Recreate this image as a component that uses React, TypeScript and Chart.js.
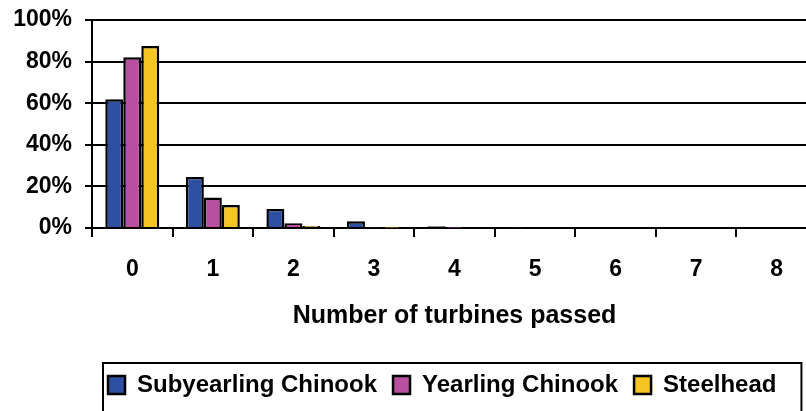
import React, { useEffect, useRef } from "react";
import { Chart, registerables } from "chart.js";

Chart.register(...registerables);

const categories = ["0", "1", "2", "3", "4", "5", "6", "7", "8"];
const subyearling = [61.9, 24.5, 9.1, 3.3, 0.8, 0.2, 0, 0, 0];
const yearling = [82.1, 14.7, 2.3, 0.3, 0.1, 0, 0, 0, 0];
const steelhead = [87.5, 11.0, 1.0, 0.1, 0, 0, 0, 0, 0];
const yTicks = [0, 20, 40, 60, 80, 100];

const FONT = "'Liberation Sans', Arial, sans-serif";

const legendFrame = {
  id: "legendFrame",
  afterDraw(chart: any) {
    const lg = chart.legend;
    if (!lg || !lg.legendHitBoxes || !lg.legendHitBoxes.length) return;
    const hb = lg.legendHitBoxes;
    const left = hb[0].left - 5;
    const last = hb[hb.length - 1];
    const right = last.left + last.width + 25;
    const top = lg.top + 6;
    const bottom = chart.height + 2;
    const ctx = chart.ctx;
    ctx.save();
    ctx.strokeStyle = "#000";
    ctx.lineWidth = 2;
    ctx.strokeRect(left, top, right - left, bottom - top);
    ctx.restore();
  },
};

export default function App() {
  const ref = useRef<HTMLCanvasElement>(null);

  useEffect(() => {
    document.body.style.margin = "0";
    const canvas = ref.current;
    if (!canvas) return;
    const chart = new Chart(canvas, {
      type: "bar",
      data: {
        labels: categories,
        datasets: [
          {
            label: "Subyearling Chinook",
            data: subyearling,
            backgroundColor: "#2E50A2",
            borderColor: "#000",
            borderWidth: 2.5,
          },
          {
            label: "Yearling Chinook",
            data: yearling,
            backgroundColor: "#B8509F",
            borderColor: "#000",
            borderWidth: 2.5,
          },
          {
            label: "Steelhead",
            data: steelhead,
            backgroundColor: "#F5C623",
            borderColor: "#000",
            borderWidth: 2.5,
          },
        ],
      },
      options: {
        responsive: false,
        animation: false,
        layout: { padding: { top: 20, left: 0, right: 0, bottom: 4 } },
        datasets: {
          bar: { barPercentage: 1, categoryPercentage: 0.67 },
        },
        plugins: {
          tooltip: { enabled: false },
          legend: {
            position: "bottom",
            align: "start",
            fullSize: false,
            labels: {
              color: "#000",
              boxWidth: 17,
              boxHeight: 18,
              padding: 16,
              font: { family: FONT, size: 24, weight: "bold" },
            },
          },
        },
        scales: {
          x: {
            offset: true,
            grid: {
              display: true,
              drawOnChartArea: false,
              drawTicks: true,
              tickLength: 9,
              offset: true,
              color: "#000",
              lineWidth: 2,
            },
            border: { display: true, color: "#000", width: 2 },
            ticks: {
              color: "#000",
              padding: 19,
              font: { family: FONT, size: 23, weight: "bold" },
            },
            title: {
              display: true,
              text: "Number of turbines passed",
              color: "#000",
              padding: { top: 0, bottom: 26 },
              font: { family: FONT, size: 25, weight: "bold" },
            },
            afterFit(scale: any) {
              scale.height = 129;
            },
          },
          y: {
            min: 0,
            max: 100,
            afterBuildTicks(scale: any) {
              scale.ticks = yTicks.map((v) => ({ value: v }));
            },
            grid: {
              color: "#000",
              lineWidth: 2,
              tickLength: 7,
              drawTicks: true,
            },
            border: { display: true, color: "#000", width: 2 },
            ticks: {
              color: "#000",
              padding: 13,
              font: { family: FONT, size: 23, weight: "bold" },
              callback: (v: any) => v + "%",
            },
            afterFit(scale: any) {
              scale.width = 92;
              scale.paddingTop = 0;
              scale.paddingBottom = 0;
            },
          },
        },
      },
      plugins: [legendFrame],
    });
    return () => chart.destroy();
  }, []);

  return (
    <div style={{ width: 806, height: 411, overflow: "hidden", position: "relative" }}>
      <canvas ref={ref} width={817} height={411} style={{ display: "block" }} />
    </div>
  );
}
